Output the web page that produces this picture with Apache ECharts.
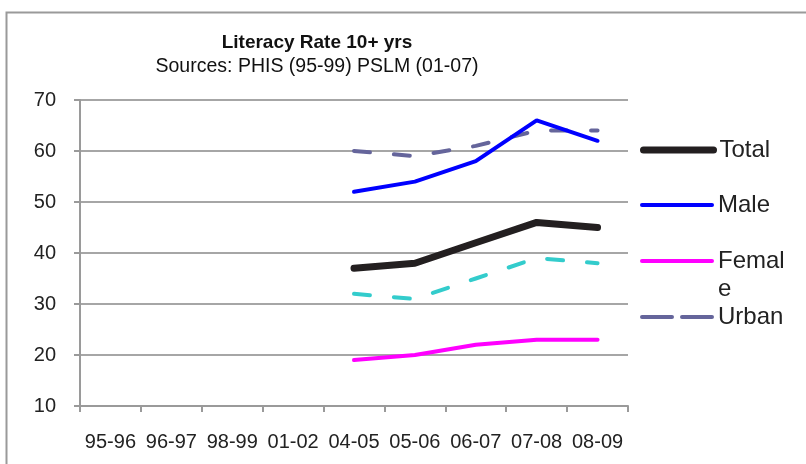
<!DOCTYPE html>
<html>
<head>
<meta charset="utf-8">
<script src="https://cdn.jsdelivr.net/npm/echarts@6/dist/echarts.min.js"></script>
<style>
  html, body { margin: 0; padding: 0; background: #fff; }
  #main { width: 806px; height: 464px; }
</style>
</head>
<body>
<div id="main"></div>
<script>
// categories on x axis
var years = ['95-96', '96-97', '98-99', '01-02', '04-05', '05-06', '06-07', '07-08', '08-09']
// values (no data for the first four years)
var total = [null, null, null, null, 37, 38, 42, 46, 45]
var male = [null, null, null, null, 52, 54, 58, 66, 62]
var female = [null, null, null, null, 19, 20, 22, 23, 23]
var urban = [null, null, null, null, 60, 59, 61, 64, 64]
var rural = [null, null, null, null, 32, 31, 35, 39, 38]
var yTicks = [10, 20, 30, 40, 50, 60, 70]

var font = 'Liberation Sans, Arial, sans-serif'
var myChart = echarts.init(document.getElementById('main'))

// one legend block per entry so each row sits where the original has it
function legendItem(name, top, lineStyle, extra) {
  return Object.assign({
    data: [name],
    orient: 'vertical',
    left: 640,
    top: top,
    padding: 0,
    itemWidth: 70,
    itemHeight: 14,
    selectedMode: false,
    lineStyle: lineStyle,
    itemStyle: { opacity: 0 }, // hide the dot, keep only the line
    textStyle: { color: '#222', fontSize: 24, fontFamily: font, padding: [0, 0, 0, 1] },
  }, extra || {})
}

var option = {
  backgroundColor: '#fff',
  animation: false,
  graphic: [
    {
      // outer frame of the chart
      type: 'rect',
      shape: { x: 6.5, y: 12.5, width: 1000, height: 1000 },
      style: { fill: 'none', stroke: '#9a9a9a', lineWidth: 2 },
      silent: true,
    },
  ],
  title: {
    text: 'Literacy Rate 10+ yrs',
    subtext: 'Sources: PHIS (95-99) PSLM (01-07)',
    left: 312,
    top: 28,
    textAlign: 'center',
    itemGap: 5,
    textStyle: { color: '#111', fontSize: 19, fontWeight: 'bold', fontFamily: font },
    subtextStyle: { color: '#111', fontSize: 19.5, fontFamily: font },
  },
  legend: [
    legendItem('Total', 138, { width: 7, cap: 'round' }),
    legendItem('Male', 193, { width: 4, cap: 'round' }),
    legendItem('Female', 219, { width: 4, cap: 'round' }, {
      // original wraps the word, first line level with the line sample
      formatter: function () { return ' \nFemal\ne' },
      textStyle: { color: '#222', fontSize: 24, fontFamily: font, lineHeight: 28, padding: [0, 0, 0, 1] },
    }),
    legendItem('Urban', 305, { width: 4, cap: 'round', type: [30, 10] }),
  ],
  grid: {
    left: 80,
    right: 178,
    top: 100,
    bottom: 58,
  },
  xAxis: {
    type: 'category',
    data: years,
    boundaryGap: true,
    axisLine: { lineStyle: { color: '#9a9a9a', width: 2 } },
    axisTick: { show: true, length: 6, lineStyle: { color: '#9a9a9a', width: 2 } },
    axisLabel: { color: '#222', fontSize: 20, fontFamily: font, margin: 26, interval: 0 },
  },
  yAxis: {
    type: 'value',
    min: yTicks[0],
    max: yTicks[yTicks.length - 1],
    interval: 10,
    axisLine: { show: true, lineStyle: { color: '#9a9a9a', width: 2 } },
    axisTick: { show: true, length: 6, lineStyle: { color: '#9a9a9a', width: 2 } },
    axisLabel: { color: '#222', fontSize: 20, fontFamily: font, margin: 24 },
    splitLine: { lineStyle: { color: '#a6a6a6', width: 2 } },
  },
  series: [
    {
      name: 'Urban',
      type: 'line',
      data: urban,
      symbol: 'none',
      lineStyle: { color: '#65659b', width: 4, type: [16, 24], cap: 'round' },
      itemStyle: { color: '#65659b' },
    },
    {
      name: 'Rural',
      type: 'line',
      data: rural,
      symbol: 'none',
      lineStyle: { color: '#33cccc', width: 4, type: [16, 24], cap: 'round' },
      itemStyle: { color: '#33cccc' },
    },
    {
      name: 'Female',
      type: 'line',
      data: female,
      symbol: 'none',
      lineStyle: { color: '#ff00ff', width: 4, cap: 'round' },
      itemStyle: { color: '#ff00ff' },
    },
    {
      name: 'Male',
      type: 'line',
      data: male,
      symbol: 'none',
      lineStyle: { color: '#0000ff', width: 4, cap: 'round' },
      itemStyle: { color: '#0000ff' },
    },
    {
      name: 'Total',
      type: 'line',
      data: total,
      symbol: 'none',
      lineStyle: { color: '#231f20', width: 7, cap: 'round' },
      itemStyle: { color: '#231f20' },
    },
  ],
}

myChart.setOption(option)
window.addEventListener('resize', function () {
  myChart.resize()
})
</script>
</body>
</html>
